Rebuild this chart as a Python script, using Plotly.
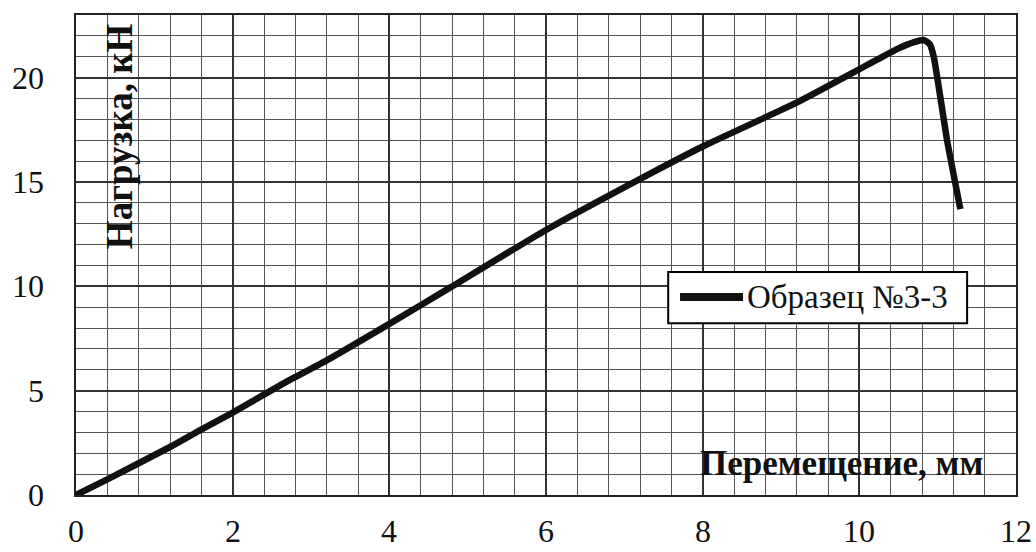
import plotly.graph_objects as go

# Data (displacement, mm -> load, kN)
displacement = [0, 0.4, 1.2, 1.58, 2.0, 2.65, 3.2, 4.0, 4.78, 6.0, 7.33, 8.0,
                9.2, 10.0, 10.27, 10.5, 10.7, 10.82, 10.9, 10.95, 11.12, 11.29]
load = [0, 0.75, 2.3, 3.1, 3.95, 5.35, 6.45, 8.2, 9.95, 12.7, 15.4, 16.7,
        18.8, 20.4, 20.95, 21.4, 21.7, 21.8, 21.6, 21.0, 17.0, 13.7]
series_name = "Образец №3-3"
x_title = "Перемещение, мм"
y_title = "Нагрузка, кН"
x_ticks = [0, 2, 4, 6, 8, 10, 12]
y_ticks = [0, 5, 10, 15, 20]

SERIF = "Liberation Serif"
INK = "#111111"

fig = go.Figure()
fig.add_trace(go.Scatter(
    x=displacement, y=load, mode="lines", name=series_name,
    line=dict(color=INK, width=6.5, shape="spline", smoothing=0.5),
    showlegend=False,
))

fig.update_layout(
    width=1036, height=552,
    margin=dict(l=76, r=20, t=15, b=57),
    paper_bgcolor="white", plot_bgcolor="white",
    font=dict(family=SERIF, color=INK),
)

fig.update_xaxes(
    range=[0, 12], tickvals=x_ticks, showticklabels=False,
    automargin=False,
    showgrid=True, gridcolor="#333333", gridwidth=1.5,
    minor=dict(dtick=0.4, showgrid=True, gridcolor="#555555", gridwidth=1),
    showline=True, linecolor="#222222", linewidth=1.5, mirror=True,
    zeroline=False, ticks="",
)
fig.update_yaxes(
    range=[0, 23], tickvals=y_ticks, showticklabels=False,
    automargin=False,
    showgrid=True, gridcolor="#333333", gridwidth=1.5,
    minor=dict(dtick=1, showgrid=True, gridcolor="#555555", gridwidth=1),
    showline=True, linecolor="#222222", linewidth=1.5, mirror=True,
    zeroline=False, ticks="",
)

# tick labels (drawn as text so the serif face is used)
for v in x_ticks:
    fig.add_annotation(text=str(v), xref="x", x=v, yref="paper", y=0,
                       yanchor="middle", yshift=-36, showarrow=False,
                       font=dict(family=SERIF, size=32, color=INK))
for v in y_ticks:
    fig.add_annotation(text=str(v), yref="y", y=v, xref="paper", x=0,
                       xanchor="right", xshift=-30, yanchor="middle",
                       showarrow=False,
                       font=dict(family=SERIF, size=32, color=INK))

# axis titles inside the plot area
fig.add_annotation(
    text="<b>" + x_title + "</b>", xref="paper", yref="paper",
    x=0.967, y=0.065, xanchor="right", yanchor="middle", showarrow=False,
    font=dict(family=SERIF, size=35, color=INK),
)
fig.add_annotation(
    text="<b>" + y_title + "</b>", xref="paper", yref="paper",
    x=0.047, y=0.748, xanchor="center", yanchor="middle", showarrow=False,
    textangle=-90,
    font=dict(family=SERIF, size=37, color=INK),
)

# legend box
fig.add_shape(type="rect", xref="paper", yref="paper",
              x0=0.63, x1=0.948, y0=0.358, y1=0.4646,
              fillcolor="white", line=dict(color="black", width=2), layer="above")
fig.add_shape(type="line", xref="paper", yref="paper",
              x0=0.6426, x1=0.7096, y0=0.4125, y1=0.4125,
              line=dict(color=INK, width=8), layer="above")
fig.add_annotation(text=series_name, xref="paper", yref="paper",
                   x=0.7117, y=0.4125, xanchor="left", yanchor="middle",
                   showarrow=False,
                   font=dict(family=SERIF, size=33, color=INK))

fig.write_html("out.html")
